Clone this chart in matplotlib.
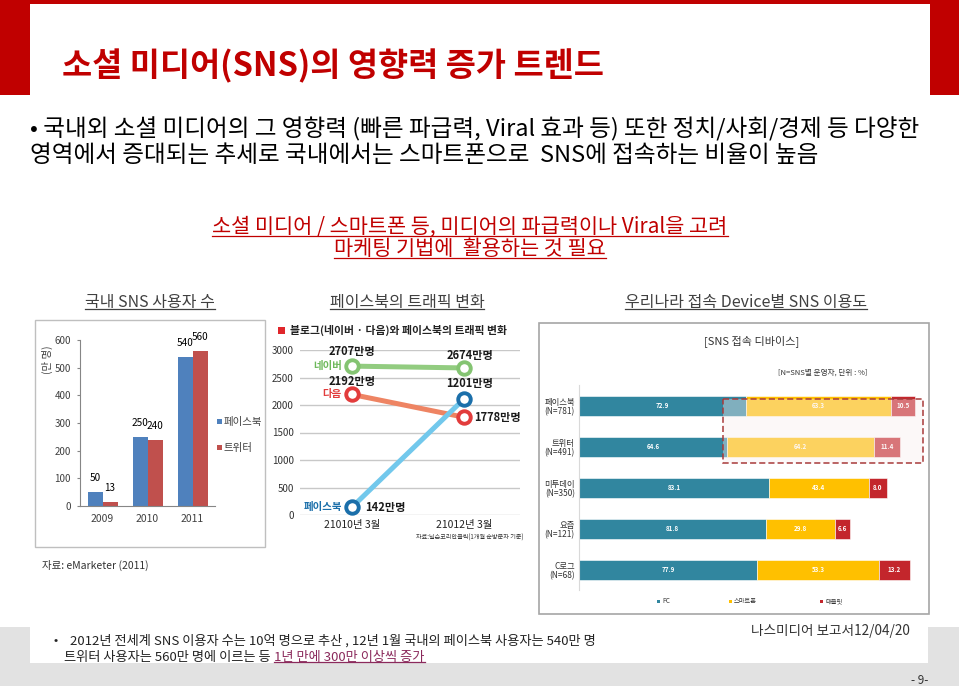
import matplotlib
matplotlib.use('Agg')
import matplotlib.pyplot as plt
from matplotlib.patches import Rectangle
import numpy as np

W, H = 959, 686
plt.rcParams['font.family'] = ['Noto Sans CJK KR', 'DejaVu Sans']

# ---------------- data ----------------
years = ['2009', '2010', '2011']
facebook_users = [50, 250, 540]
twitter_users = [13, 240, 560]

periods = ['21010년 3월', '21012년 3월']
naver_traffic = [2707, 2674]
daum_traffic = [2192, 1778]
facebook_traffic = [142, 2110]
naver_labels = ['2707만명', '2674만명']
daum_labels = ['2192만명', '1778만명']
facebook_labels = ['142만명', '1201만명']

sns_services = ['페이스북\n(N=781)', '트위터\n(N=491)', '미투데이\n(N=350)',
                '요즘\n(N=121)', 'C로그\n(N=68)']
pc_share = [72.9, 64.6, 83.1, 81.8, 77.9]
smartphone_share = [63.3, 64.2, 43.4, 29.8, 53.3]
tablet_share = [10.5, 11.4, 8.0, 6.6, 13.2]

RED = '#C00000'

fig = plt.figure(figsize=(W / 100, H / 100), dpi=100)


def rect(x0, y0, x1, y1):
    return [x0 / W, 1 - y1 / H, (x1 - x0) / W, (y1 - y0) / H]


bg = fig.add_axes([0, 0, 1, 1])
bg.set_xlim(0, W)
bg.set_ylim(H, 0)
bg.axis('off')

# slide frame
bg.add_patch(Rectangle((0, 0), W, 4, color=RED, lw=0))
bg.add_patch(Rectangle((0, 0), 30, 95, color=RED, lw=0))
bg.add_patch(Rectangle((930, 0), 29, 95, color=RED, lw=0))
bg.add_patch(Rectangle((0, 627), W, 59, color='#E2E2E2', lw=0))
bg.add_patch(Rectangle((30, 600), 898, 63, color='white', lw=0))

bg.text(62, 66, '소셜 미디어(SNS)의 영향력 증가 트렌드', fontsize=23.6,
        fontweight='bold', color=RED, va='center', ha='left')
bg.text(30, 129, '• 국내외 소셜 미디어의 그 영향력 (빠른 파급력, Viral 효과 등) 또한 정치/사회/경제 등 다양한',
        fontsize=17, va='center', ha='left', color='black')
bg.text(30, 156, '영역에서 증대되는 추세로 국내에서는 스마트폰으로  SNS에 접속하는 비율이 높음',
        fontsize=17, va='center', ha='left', color='black')

underlined = []
t = bg.text(470, 227, '소셜 미디어 / 스마트폰 등, 미디어의 파급력이나 Viral을 고려',
            fontsize=15, va='center', ha='center', color=RED)
underlined.append((t, RED))
t = bg.text(470, 249, '마케팅 기법에  활용하는 것 필요',
            fontsize=15, va='center', ha='center', color=RED)
underlined.append((t, RED))

for x, s in [(150, '국내 SNS 사용자 수'), (407, '페이스북의 트래픽 변화'),
             (746, '우리나라 접속 Device별 SNS 이용도')]:
    t = bg.text(x, 302, s, fontsize=11.5, va='center', ha='center', color='#404040')
    underlined.append((t, '#404040'))

# ---------------- chart 1 ----------------
bg.add_patch(Rectangle((35, 320), 230, 227, fill=False, edgecolor='#BFBFBF', lw=1))
ax1 = fig.add_axes(rect(80, 340, 215, 506))
ax1.set_facecolor('none')
xi = np.arange(len(years))
bw = 1 / 3
b1 = ax1.bar(xi - bw / 2, facebook_users, bw, color='#4F81BD')
b2 = ax1.bar(xi + bw / 2, twitter_users, bw, color='#C0504D')
for bars, vals in [(b1, facebook_users), (b2, twitter_users)]:
    for r, v in zip(bars, vals):
        ax1.annotate(str(v), (r.get_x() + r.get_width() / 2, v), xytext=(0, 14),
                     textcoords='offset pixels', ha='center', va='center',
                     fontsize=7.2, color='black')
ax1.set_xlim(-0.5, 2.5)
ax1.set_ylim(0, 600)
ax1.set_yticks(range(0, 601, 100))
ax1.set_xticks(xi, years)
for s in ['top', 'right']:
    ax1.spines[s].set_visible(False)
for s in ['left', 'bottom']:
    ax1.spines[s].set_color('#868686')
ax1.tick_params(axis='y', length=2.5, pad=4, labelsize=7, colors='#868686', labelcolor='#404040')
ax1.tick_params(axis='x', length=0, pad=6, labelsize=7.5, labelcolor='#404040')

bg.text(47, 360, '(만 명)', rotation=90, fontsize=7.5, va='center', ha='center', color='#404040')
bg.add_patch(Rectangle((217, 419), 5, 5, color='#4F81BD', lw=0))
bg.text(224, 421.5, '페이스북', fontsize=7.5, va='center', ha='left', color='#404040')
bg.add_patch(Rectangle((217, 445), 5, 5, color='#C0504D', lw=0))
bg.text(224, 447.5, '트위터', fontsize=7.5, va='center', ha='left', color='#404040')
bg.text(42, 565, '자료: eMarketer (2011)', fontsize=7.5, va='center', ha='left', color='#333333')

# ---------------- chart 2 ----------------
bg.add_patch(Rectangle((278, 327), 7, 7, color='#E0262B', lw=0))
bg.text(290, 330.5, '블로그(네이버 · 다음)와 페이스북의 트래픽 변화', fontsize=7.8,
        fontweight='bold', va='center', ha='left', color='#222222')
ax2 = fig.add_axes(rect(300, 350, 520, 515))
ax2.set_facecolor('none')
xp = np.arange(len(periods))
ax2.set_xlim(-0.464, 1.5)
ax2.set_ylim(0, 3000)
ax2.set_yticks(range(0, 3001, 500))
ax2.set_xticks(xp, periods)
for yv in range(0, 3001, 500):
    ax2.axhline(yv, color='#C8C8C8', lw=1, zorder=0)
for s in ax2.spines.values():
    s.set_visible(False)
ax2.tick_params(axis='y', length=0, pad=4.5, labelsize=7, labelcolor='#333333')
ax2.tick_params(axis='x', length=0, pad=3.5, labelsize=7.5, labelcolor='#222222')

series2 = [
    (naver_traffic, naver_labels, '#92CC80', '#84C472', '네이버', '#6DB85A'),
    (daum_traffic, daum_labels, '#EE8463', '#E23C3C', '다음', '#E23C3C'),
    (facebook_traffic, facebook_labels, '#72C8EC', '#1B6FAA', '페이스북', '#1B6FAA'),
]
for vals, labs, lc, mc, name, nc in series2:
    ax2.plot(xp, vals, color=lc, lw=3.6, solid_capstyle='round', zorder=2)
    ax2.plot(xp, vals, 'o', ms=9, mfc='white', mec=mc, mew=2.8, zorder=3)
    ax2.annotate(name, (xp[0], vals[0]), xytext=(-10, 0), textcoords='offset pixels',
                 ha='right', va='center', fontsize=7.5, fontweight='bold', color=nc)

lab_offsets = {
    '2707만명': (0, 15, 'center'), '2674만명': (6, 12, 'center'),
    '2192만명': (0, 13, 'center'), '1778만명': (10, 0, 'left'),
    '142만명': (13, 0, 'left'), '1201만명': (6, 15, 'center'),
}
for vals, labs, *_ in series2:
    for x, v, s in zip(xp, vals, labs):
        dx, dy, ha = lab_offsets[s]
        ax2.annotate(s, (x, v), xytext=(dx, dy), textcoords='offset pixels',
                     ha=ha, va='center', fontsize=8, fontweight='bold', color='#1A1A1A')
bg.text(523, 538, '자료:닐슨코리안클릭(1개월 순방문자 기준)', fontsize=4.4,
        va='center', ha='right', color='#333333')

# ---------------- chart 3 ----------------
bg.add_patch(Rectangle((539, 323), 390, 291, fill=False, edgecolor='#A6A6A6', lw=1.2))
bg.text(752, 341, '[SNS 접속 디바이스]', fontsize=8, va='center', ha='center', color='#333333')
bg.text(823, 373, '[N=SNS별 운영자, 단위 : %]', fontsize=5.5, va='center', ha='center', color='#333333')

ax3 = fig.add_axes(rect(579, 385, 929, 590))
ax3.set_facecolor('none')
yi = np.arange(len(sns_services))
pc = np.array(pc_share)
sp = np.array(smartphone_share)
tb = np.array(tablet_share)
bh = 0.49
segs = [(pc, 0, '#31869F'), (sp, pc, '#FFC000'), (tb, pc + sp, '#C3262C')]
for vals, left, col in segs:
    bars = ax3.barh(yi, vals, bh, left=left, color=col, edgecolor='white', lw=0.4)
    for r, v in zip(bars, vals):
        ax3.text(r.get_x() + r.get_width() / 2, r.get_y() + r.get_height() / 2,
                 f'{v:.1f}', ha='center', va='center', fontsize=4.5,
                 fontweight='bold', color='white')
ax3.set_xlim(0, 350 / 2.29)
ax3.set_ylim(4.488, -0.512)
ax3.set_xticks([])
ax3.set_yticks(yi, sns_services)
for lbl in ax3.get_yticklabels():
    lbl.set_multialignment('right')
    lbl.set_linespacing(1.0)
for s in ['top', 'right', 'bottom']:
    ax3.spines[s].set_visible(False)
ax3.spines['left'].set_color('#D9D9D9')
ax3.tick_params(axis='y', length=0, pad=3, labelsize=6, labelcolor='#333333')

for x, col, s in [(657, '#31869F', 'PC'), (729, '#FFC000', '스마트폰'), (820, '#C3262C', '태블릿')]:
    bg.add_patch(Rectangle((x, 599.5), 3, 3, color=col, lw=0))
    bg.text(x + 5, 601, s, fontsize=4.5, va='center', ha='left', color='#333333')

# ---------------- bottom ----------------
bg.text(53, 641, '•', fontsize=9, va='center', ha='left', color='#222222')
bg.text(70, 641, '2012년 전세계 SNS 이용자 수는 10억 명으로 추산 , 12년 1월 국내의 페이스북 사용자는 540만 명',
        fontsize=9.5, va='center', ha='left', color='#222222')
t1 = bg.text(64, 657, '트위터 사용자는 560만 명에 이르는 등', fontsize=9.5,
             va='center', ha='left', color='#222222')
t2 = bg.annotate('1년 만에 300만 이상씩 증가', xy=(1, 0.5), xycoords=t1, xytext=(3.5, 0),
                 textcoords='offset pixels', fontsize=9.5, va='center', ha='left', color='#8B2A5C')
underlined.append((t2, '#8B2A5C'))
bg.text(910, 631, '나스미디어 보고서12/04/20', fontsize=9.8, va='center', ha='right', color='#333333')
bg.text(928, 680, '- 9-', fontsize=8.5, va='center', ha='right', color='#333333')

# ---------------- overlay ----------------
fg = fig.add_axes([0, 0, 1, 1], zorder=5)
fg.set_facecolor('none')
fg.set_xlim(0, W)
fg.set_ylim(H, 0)
fg.axis('off')
fg.add_patch(Rectangle((723, 399), 200, 64, facecolor='#F8EEEE', alpha=0.4, lw=0))
fg.add_patch(Rectangle((723, 399), 200, 64, fill=False, edgecolor='#A83A3A',
                       lw=1.1, linestyle=(0, (4, 2))))

fig.canvas.draw()
renderer = fig.canvas.get_renderer()
inv = fg.transData.inverted()
for t, col in underlined:
    bb = t.get_window_extent(renderer)
    (x0, y0), (x1, _) = inv.transform([(bb.x0, bb.y0 + 2), (bb.x1, bb.y0 + 2)])
    fg.plot([x0, x1], [y0, y0], color=col, lw=0.9)

fig.savefig('out.png', dpi=100)
